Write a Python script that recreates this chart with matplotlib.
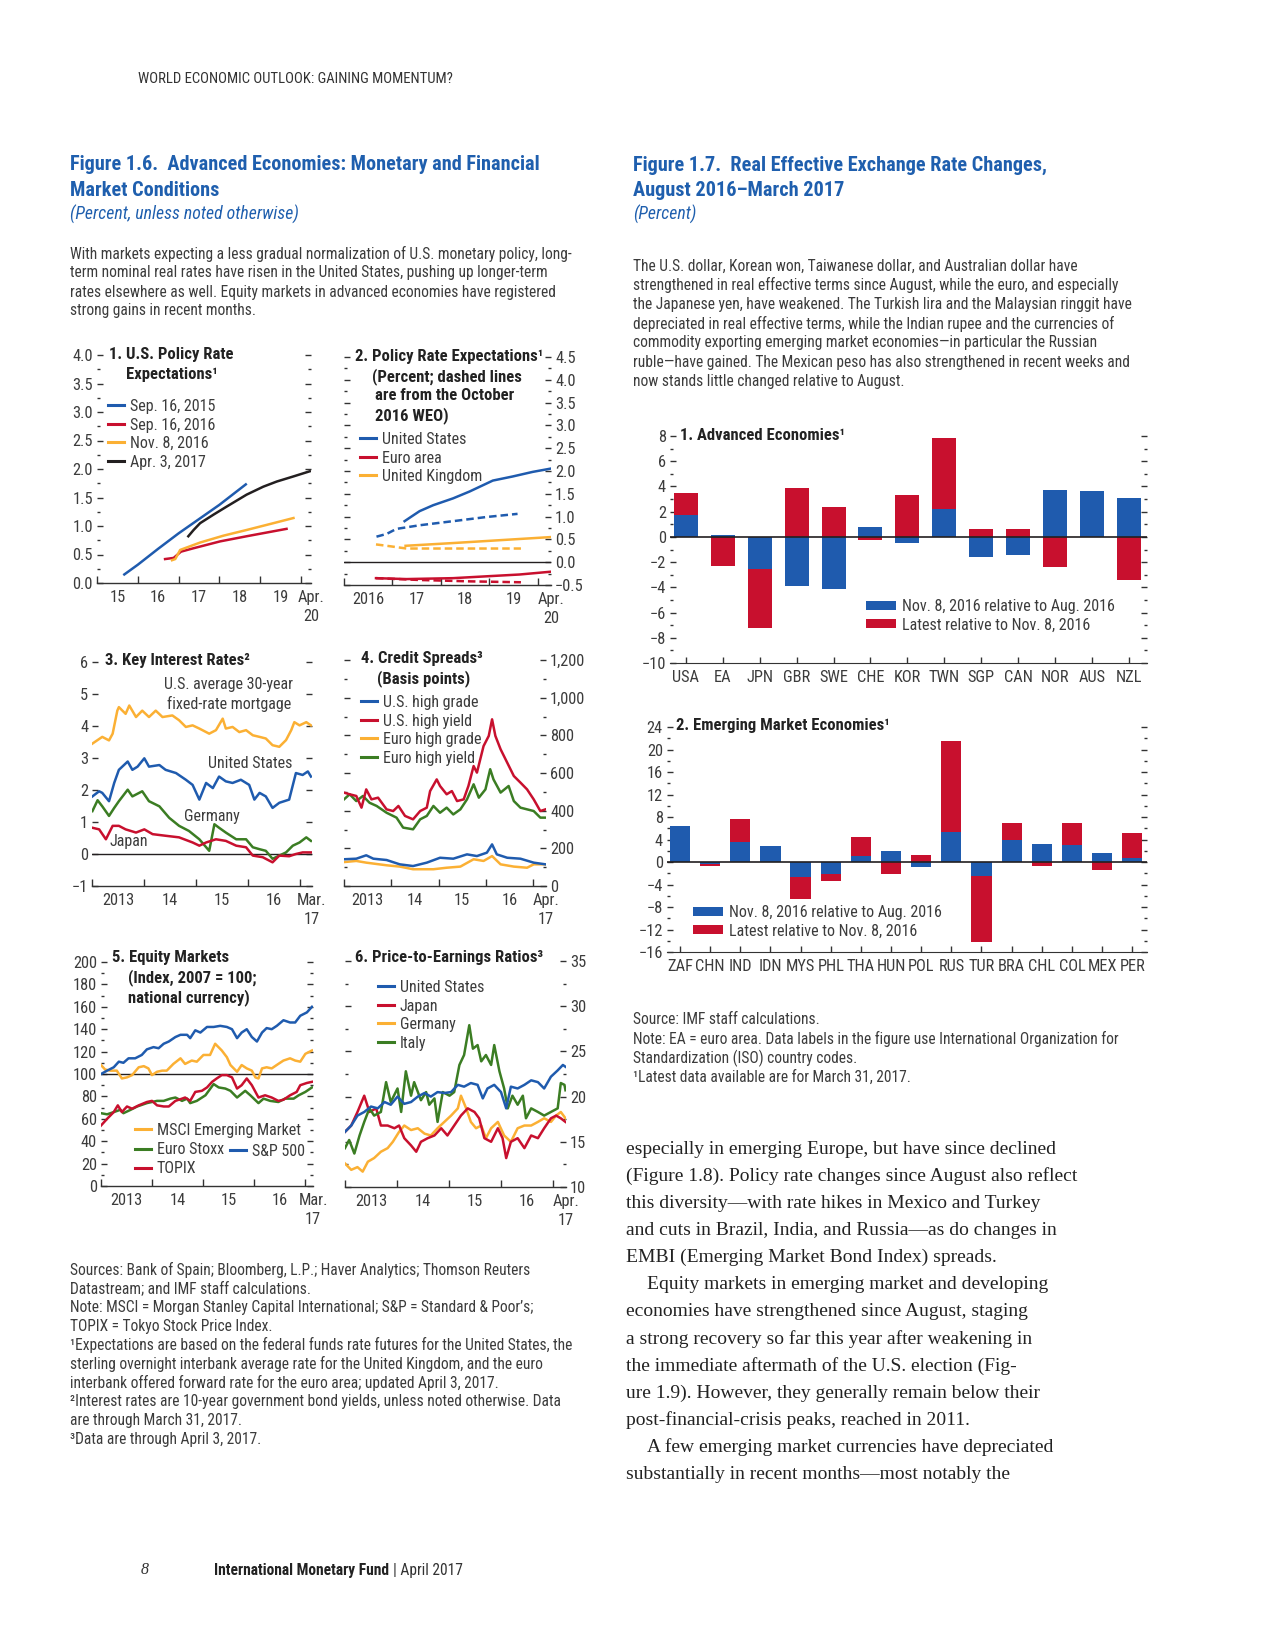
import matplotlib
matplotlib.use('Agg')
import matplotlib.pyplot as plt
from matplotlib import font_manager as fm
from matplotlib.ticker import MultipleLocator, FixedLocator, NullFormatter, FuncFormatter
from matplotlib.patches import Patch
from matplotlib.lines import Line2D
import numpy as np

# ======================= DATA =======================
# Panel 1: U.S. policy rate expectations (year, percent)
p1_sep15_x = [2015.67, 2016.0, 2016.5, 2017.0, 2017.5, 2018.0, 2018.65]
p1_sep15_y = [0.15, 0.32, 0.60, 0.87, 1.12, 1.37, 1.73]
p1_sep16_x = [2016.67, 2016.88, 2017.06, 2017.37, 2018.02, 2018.67, 2019.65]
p1_sep16_y = [0.42, 0.44, 0.55, 0.61, 0.73, 0.82, 0.95]
p1_nov16_x = [2016.84, 2016.92, 2017.04, 2017.53, 2018.10, 2018.67, 2019.33, 2019.82]
p1_nov16_y = [0.40, 0.42, 0.58, 0.71, 0.83, 0.93, 1.05, 1.14]
p1_apr17_x = [2017.24, 2017.37, 2017.53, 2017.86, 2018.18, 2018.67, 2019.08, 2019.41, 2019.82, 2020.22]
p1_apr17_y = [0.82, 0.93, 1.05, 1.20, 1.34, 1.55, 1.69, 1.78, 1.87, 1.96]

# Panel 2: policy rate expectations (solid = latest, dashed = Oct 2016 WEO)
p2_us_x = [2017.25, 2017.39, 2017.56, 2017.84, 2018.25, 2018.59, 2018.93, 2019.07, 2019.48, 2019.89, 2020.25]
p2_us_y = [0.90, 1.00, 1.12, 1.25, 1.40, 1.55, 1.72, 1.79, 1.88, 1.98, 2.05]
p2_usd_x = [2016.67, 2016.88, 2017.08, 2017.56, 2018.25, 2018.93, 2019.58]
p2_usd_y = [0.56, 0.62, 0.73, 0.81, 0.90, 0.99, 1.06]
p2_uk_x = [2017.27, 2018.25, 2020.25]
p2_uk_y = [0.36, 0.42, 0.55]
p2_ukd_x = [2016.66, 2016.88, 2017.29, 2018.25, 2019.65]
p2_ukd_y = [0.39, 0.36, 0.30, 0.30, 0.30]
p2_ea_x = [2016.66, 2017.29, 2018.25, 2018.93, 2019.62, 2020.25]
p2_ea_y = [-0.35, -0.37, -0.35, -0.31, -0.27, -0.21]
p2_ead_x = [2016.66, 2017.56, 2018.59, 2019.65]
p2_ead_y = [-0.35, -0.39, -0.42, -0.44]

# Panel 3: key interest rates (percent)
p3_mort_x = [2013.00, 2013.19, 2013.32, 2013.39, 2013.48, 2013.51, 2013.64, 2013.71, 2013.84, 2013.96,
             2014.09, 2014.22, 2014.35, 2014.54, 2014.67, 2014.80, 2014.93, 2015.06, 2015.25, 2015.38,
             2015.51, 2015.57, 2015.70, 2015.83, 2015.96, 2016.09, 2016.22, 2016.34, 2016.47, 2016.60,
             2016.73, 2016.83, 2016.89, 2016.99, 2017.12, 2017.21]
p3_mort_y = [3.45, 3.66, 3.55, 3.76, 4.48, 4.59, 4.38, 4.64, 4.28, 4.48,
             4.28, 4.48, 4.28, 4.33, 4.18, 3.97, 4.02, 3.92, 3.76, 3.87,
             4.23, 3.92, 3.97, 3.81, 3.87, 3.71, 3.66, 3.61, 3.40, 3.35,
             3.56, 3.87, 4.12, 4.02, 4.12, 4.02]
p3_us_x = [2013.00, 2013.13, 2013.19, 2013.32, 2013.42, 2013.51, 2013.68, 2013.77, 2013.87, 2014.00,
           2014.09, 2014.29, 2014.41, 2014.61, 2014.80, 2014.93, 2015.06, 2015.19, 2015.32, 2015.44,
           2015.57, 2015.70, 2015.86, 2016.02, 2016.12, 2016.22, 2016.34, 2016.47, 2016.60, 2016.79,
           2016.92, 2017.05, 2017.15, 2017.21]
p3_us_y = [1.80, 1.96, 1.91, 1.65, 2.22, 2.63, 2.89, 2.63, 2.73, 2.99,
           2.73, 2.78, 2.63, 2.53, 2.32, 2.16, 1.70, 2.22, 2.06, 2.42,
           2.27, 2.22, 2.32, 2.16, 1.70, 1.91, 1.80, 1.44, 1.60, 1.70,
           2.53, 2.47, 2.58, 2.42]
p3_de_x = [2013.00, 2013.10, 2013.19, 2013.32, 2013.42, 2013.51, 2013.68, 2013.77, 2013.96, 2014.09,
           2014.29, 2014.48, 2014.67, 2014.86, 2015.06, 2015.25, 2015.35, 2015.44, 2015.57, 2015.77,
           2015.96, 2016.09, 2016.22, 2016.34, 2016.47, 2016.60, 2016.73, 2016.86, 2016.99, 2017.12,
           2017.21]
p3_de_y = [1.34, 1.68, 1.49, 1.19, 1.44, 1.65, 2.01, 1.80, 1.96, 1.65,
           1.49, 1.13, 0.88, 0.72, 0.46, 0.10, 0.93, 0.82, 0.67, 0.46,
           0.46, 0.21, 0.15, 0.10, -0.15, -0.05, 0.05, 0.26, 0.36, 0.52,
           0.41]
p3_jp_x = [2013.00, 2013.13, 2013.26, 2013.39, 2013.51, 2013.64, 2013.84, 2014.00, 2014.16, 2014.41,
           2014.67, 2014.93, 2015.06, 2015.19, 2015.38, 2015.57, 2015.77, 2015.96, 2016.09, 2016.28,
           2016.47, 2016.60, 2016.79, 2016.92, 2017.05, 2017.21]
p3_jp_y = [0.82, 0.77, 0.46, 0.88, 0.88, 0.77, 0.67, 0.77, 0.62, 0.57,
           0.52, 0.36, 0.26, 0.36, 0.46, 0.41, 0.26, 0.21, -0.05, -0.10,
           -0.26, -0.05, -0.07, 0.00, 0.05, 0.05]

# Panel 4: credit spreads (basis points)
p4_ushy_x = [2013.00, 2013.12, 2013.26, 2013.37, 2013.47, 2013.58, 2013.72, 2013.90, 2014.04, 2014.15,
             2014.29, 2014.46, 2014.61, 2014.75, 2014.82, 2014.96, 2015.03, 2015.17, 2015.28, 2015.39,
             2015.53, 2015.63, 2015.74, 2015.81, 2015.95, 2016.06, 2016.13, 2016.20, 2016.31, 2016.45,
             2016.59, 2016.73, 2016.87, 2017.01, 2017.15, 2017.26]
p4_ushy_y = [496, 487, 478, 416, 513, 460, 469, 407, 398, 425,
             372, 354, 398, 416, 504, 566, 531, 487, 504, 451,
             460, 531, 637, 602, 743, 797, 885, 797, 726, 655,
             584, 549, 513, 460, 398, 407]
p4_euhy_x = [2013.00, 2013.12, 2013.26, 2013.40, 2013.54, 2013.69, 2013.90, 2014.11, 2014.25, 2014.46,
             2014.61, 2014.75, 2014.89, 2015.03, 2015.17, 2015.31, 2015.46, 2015.60, 2015.74, 2015.85,
             2015.99, 2016.09, 2016.16, 2016.31, 2016.48, 2016.59, 2016.73, 2016.87, 2017.01, 2017.15,
             2017.26]
p4_euhy_y = [460, 487, 451, 478, 442, 425, 389, 363, 310, 301,
             354, 372, 425, 389, 416, 380, 407, 460, 540, 469,
             513, 620, 566, 496, 531, 451, 416, 407, 398, 363,
             363]
p4_ushg_x = [2013.00, 2013.26, 2013.47, 2013.62, 2013.90, 2014.18, 2014.46, 2014.75, 2015.03, 2015.31,
             2015.60, 2015.81, 2016.02, 2016.13, 2016.23, 2016.45, 2016.73, 2017.01, 2017.26]
p4_ushg_y = [142, 145, 163, 145, 138, 115, 106, 124, 150, 145,
             168, 159, 177, 221, 168, 150, 145, 124, 115]
p4_euhg_x = [2013.00, 2013.26, 2013.47, 2013.90, 2014.18, 2014.46, 2014.89, 2015.17, 2015.46, 2015.74,
             2015.95, 2016.13, 2016.31, 2016.59, 2016.87, 2017.01, 2017.26]
p4_euhg_y = [127, 133, 124, 110, 103, 89, 89, 97, 103, 142,
             133, 159, 115, 103, 97, 115, 115]

# Panel 5: equity markets (index, 2007 = 100)
p5_sp_x = [2013.00, 2013.12, 2013.25, 2013.35, 2013.44, 2013.54, 2013.67, 2013.80, 2013.90, 2014.03,
           2014.13, 2014.23, 2014.33, 2014.46, 2014.56, 2014.69, 2014.75, 2014.85, 2014.95, 2015.08,
           2015.21, 2015.34, 2015.47, 2015.57, 2015.67, 2015.76, 2015.86, 2015.96, 2016.06, 2016.16,
           2016.25, 2016.35, 2016.45, 2016.58, 2016.71, 2016.81, 2016.91, 2017.04, 2017.14]
p5_sp_y = [100, 103, 106, 111, 110, 114, 114, 117, 122, 124,
           123, 127, 129, 133, 135, 135, 132, 139, 137, 142,
           142, 143, 142, 140, 132, 137, 140, 133, 129, 137,
           141, 140, 143, 148, 146, 146, 152, 155, 160]
p5_em_x = [2013.00, 2013.08, 2013.18, 2013.31, 2013.41, 2013.51, 2013.61, 2013.74, 2013.84, 2013.93,
           2014.00, 2014.10, 2014.20, 2014.29, 2014.42, 2014.56, 2014.65, 2014.78, 2014.88, 2015.01,
           2015.14, 2015.24, 2015.37, 2015.47, 2015.54, 2015.67, 2015.76, 2015.86, 2015.96, 2016.03,
           2016.09, 2016.16, 2016.25, 2016.35, 2016.48, 2016.58, 2016.71, 2016.81, 2016.91, 2017.01,
           2017.14]
p5_em_y = [108, 104, 103, 103, 96, 97, 99, 106, 107, 105,
           99, 102, 103, 103, 109, 114, 109, 112, 111, 117,
           117, 127, 121, 115, 108, 102, 108, 105, 103, 97,
           96, 105, 106, 105, 109, 112, 114, 112, 111, 118,
           121]
p5_es_x = [2013.00, 2013.12, 2013.25, 2013.38, 2013.44, 2013.58, 2013.71, 2013.90, 2014.10, 2014.23,
           2014.36, 2014.46, 2014.59, 2014.69, 2014.75, 2014.88, 2015.05, 2015.21, 2015.31, 2015.44,
           2015.54, 2015.67, 2015.83, 2015.93, 2016.09, 2016.19, 2016.32, 2016.48, 2016.61, 2016.78,
           2016.88, 2017.01, 2017.14]
p5_es_y = [65, 64, 66, 68, 65, 68, 71, 74, 76, 76,
           78, 79, 76, 78, 74, 76, 81, 91, 88, 87,
           85, 79, 85, 81, 74, 78, 76, 75, 78, 78,
           81, 84, 88]
p5_tp_x = [2013.00, 2013.12, 2013.25, 2013.33, 2013.41, 2013.51, 2013.61, 2013.74, 2013.90, 2014.00,
           2014.10, 2014.23, 2014.33, 2014.46, 2014.59, 2014.65, 2014.75, 2014.85, 2014.98, 2015.08,
           2015.18, 2015.27, 2015.37, 2015.47, 2015.57, 2015.67, 2015.76, 2015.86, 2015.96, 2016.09,
           2016.22, 2016.35, 2016.48, 2016.58, 2016.71, 2016.84, 2016.91, 2017.04, 2017.14]
p5_tp_y = [54, 60, 66, 72, 66, 71, 69, 72, 75, 76,
           72, 71, 71, 76, 78, 79, 76, 84, 85, 88,
           93, 96, 99, 99, 97, 87, 90, 96, 90, 79,
           81, 79, 76, 77, 81, 84, 90, 92, 93]

# Panel 6: price-to-earnings ratios
p6_us_x = [2013.00, 2013.12, 2013.24, 2013.37, 2013.50, 2013.63, 2013.76, 2013.88, 2014.01, 2014.14,
           2014.27, 2014.40, 2014.53, 2014.65, 2014.78, 2014.91, 2015.04, 2015.17, 2015.29, 2015.42,
           2015.55, 2015.65, 2015.74, 2015.87, 2016.00, 2016.10, 2016.19, 2016.32, 2016.45, 2016.58,
           2016.71, 2016.83, 2016.96, 2017.09, 2017.19, 2017.24]
p6_us_y = [16.1, 16.8, 17.9, 18.3, 18.9, 18.7, 19.4, 19.1, 20.0, 19.2,
           19.4, 20.0, 20.4, 20.0, 20.5, 20.4, 20.5, 21.3, 21.1, 21.5,
           21.3, 19.8, 20.9, 21.3, 20.5, 18.7, 21.1, 20.9, 21.3, 21.8,
           21.6, 20.9, 22.2, 22.9, 23.5, 23.3]
p6_it_x = [2013.00, 2013.08, 2013.18, 2013.28, 2013.37, 2013.47, 2013.56, 2013.69, 2013.79, 2013.88,
           2014.01, 2014.08, 2014.17, 2014.27, 2014.33, 2014.46, 2014.56, 2014.62, 2014.72, 2014.78,
           2014.88, 2015.01, 2015.10, 2015.20, 2015.29, 2015.39, 2015.46, 2015.55, 2015.62, 2015.71,
           2015.81, 2015.87, 2015.97, 2016.06, 2016.13, 2016.22, 2016.32, 2016.42, 2016.48, 2016.58,
           2016.71, 2016.83, 2016.96, 2017.09, 2017.15, 2017.22, 2017.24]
p6_it_y = [14.3, 15.2, 13.7, 15.7, 17.2, 18.7, 17.9, 18.3, 21.6, 19.4,
           20.9, 18.3, 22.8, 20.1, 21.6, 19.6, 20.5, 19.1, 19.8, 17.2,
           20.5, 20.1, 20.5, 23.5, 24.6, 27.9, 25.3, 25.7, 23.9, 24.6,
           23.5, 25.7, 22.8, 20.9, 18.7, 20.1, 19.1, 20.1, 17.6, 18.7,
           18.3, 17.9, 18.3, 18.7, 21.5, 21.3, 20.7]
p6_jp_x = [2013.00, 2013.12, 2013.24, 2013.37, 2013.47, 2013.60, 2013.69, 2013.82, 2013.95, 2014.04,
           2014.14, 2014.27, 2014.37, 2014.46, 2014.59, 2014.72, 2014.85, 2014.97, 2015.10, 2015.23,
           2015.36, 2015.49, 2015.58, 2015.68, 2015.81, 2015.94, 2016.03, 2016.10, 2016.19, 2016.32,
           2016.45, 2016.58, 2016.71, 2016.83, 2016.96, 2017.06, 2017.15, 2017.24]
p6_jp_y = [16.1, 16.8, 18.3, 20.1, 18.3, 18.7, 16.8, 16.8, 16.5, 16.8,
           15.4, 14.6, 13.9, 15.0, 15.4, 15.7, 16.5, 15.7, 16.8, 17.9,
           18.7, 18.3, 17.6, 15.4, 15.0, 16.5, 15.4, 13.2, 15.0, 15.4,
           14.3, 15.7, 15.4, 16.5, 17.6, 17.9, 17.6, 17.2]
p6_de_x = [2013.00, 2013.12, 2013.24, 2013.34, 2013.44, 2013.56, 2013.69, 2013.82, 2013.92, 2014.04,
           2014.14, 2014.27, 2014.40, 2014.53, 2014.65, 2014.78, 2014.91, 2015.04, 2015.17, 2015.23,
           2015.33, 2015.42, 2015.52, 2015.62, 2015.71, 2015.81, 2015.94, 2016.06, 2016.19, 2016.32,
           2016.45, 2016.58, 2016.71, 2016.83, 2016.96, 2017.06, 2017.15, 2017.24]
p6_de_y = [12.6, 11.9, 12.2, 11.7, 12.8, 13.2, 13.9, 14.3, 15.0, 16.1,
           16.8, 16.3, 16.5, 15.9, 15.7, 16.5, 17.2, 17.9, 18.7, 20.1,
           18.7, 17.2, 16.5, 16.8, 15.4, 16.5, 17.2, 15.7, 15.0, 16.5,
           16.8, 16.8, 17.2, 17.6, 17.2, 17.9, 18.3, 17.6]

# Figure 1.7: real effective exchange rate changes (percent)
ae_codes = ['USA', 'EA', 'JPN', 'GBR', 'SWE', 'CHE', 'KOR', 'TWN', 'SGP', 'CAN', 'NOR', 'AUS', 'NZL']
ae_nov_vs_aug = [1.74, 0.16, -2.53, -3.93, -4.12, 0.79, -0.45, 2.22, -1.56, -1.40, 3.72, 3.64, 3.10]
ae_latest_vs_nov = [1.72, -2.27, -4.73, 3.85, 2.35, -0.21, 3.30, 5.59, 0.63, 0.63, -2.35, 0.0, -3.40]

em_codes = ['ZAF', 'CHN', 'IND', 'IDN', 'MYS', 'PHL', 'THA', 'HUN', 'POL', 'RUS', 'TUR', 'BRA',
            'CHL', 'COL', 'MEX', 'PER']
em_nov_vs_aug = [6.45, -0.35, 3.49, 2.90, -2.72, -2.07, 1.00, 2.00, -0.83, 5.27, -2.54, 3.96,
                 3.25, 3.02, 1.65, 0.80]
em_latest_vs_nov = [0.0, -0.30, 4.20, 0.0, -3.79, -1.24, 3.50, -2.07, 1.30, 16.27, -11.76, 2.97,
                    -0.65, 3.90, -1.37, 4.30]

# ======================= STYLE =======================
W, H = 1275, 1650
fig = plt.figure(figsize=(W / 100, H / 100), dpi=100)
fig.patch.set_facecolor('white')

names = {f.name for f in fm.fontManager.ttflist}
def pick(*cands):
    for c in cands:
        if c in names:
            return c
    return 'DejaVu Sans'
SANS = pick('Liberation Sans Narrow', 'Roboto Condensed', 'Open Sans Condensed', 'Liberation Sans')
SERIF = pick('Liberation Serif', 'DejaVu Serif')
plt.rcParams['font.family'] = [SANS, 'DejaVu Sans']

BLUE = '#1F5BAE'
RED = '#C8102E'
ORANGE = '#FBB034'
GREEN = '#3B7D23'
BLACK = '#231F20'
TBLUE = '#1F5FAE'
TXT = '#3C3C3C'
AX = '#333333'
FS = 11.2      # page notes
TFS = 11.8     # tick labels
LFS = 11.5     # legends / annotations
HFS = 12.0     # panel titles
LW = 1.8


def px_axes(l, t, r, b):
    ax = fig.add_axes([l / W, 1 - b / H, (r - l) / W, (b - t) / H])
    ax.patch.set_alpha(0)
    return ax


def ftext(x, y, s, **kw):
    kw.setdefault('va', 'center')
    kw.setdefault('ha', 'left')
    kw.setdefault('color', TXT)
    kw.setdefault('fontsize', FS)
    return fig.text(x / W, 1 - y / H, s, **kw)


def ptitle(x, y, s):
    return ftext(x, y, s, fontweight='bold', color='#222222', fontsize=HFS)


def style_ts(ax, xlim, ylim, bounds, clabels, endlabel, ymaj, ymin, side, fmt=None, xpad=5):
    ax.set_xlim(*xlim)
    ax.set_ylim(*ylim)
    for s in ('top', 'left', 'right'):
        ax.spines[s].set_visible(False)
    ax.spines['bottom'].set_color(AX)
    ax.spines['bottom'].set_linewidth(1.0)
    ax.xaxis.set_major_locator(FixedLocator(bounds))
    ax.xaxis.set_major_formatter(NullFormatter())
    centers = [b + 0.5 for b in bounds[:len(clabels)]]
    ax.xaxis.set_minor_locator(FixedLocator(centers + [xlim[1]]))
    ax.set_xticklabels(clabels + [endlabel], minor=True, linespacing=1.3)
    ax.tick_params(axis='x', which='major', direction='in', length=5, width=1, color=AX)
    ax.tick_params(axis='x', which='minor', length=0, pad=xpad, labelsize=TFS, labelcolor=TXT)
    ax.yaxis.set_major_locator(MultipleLocator(ymaj))
    if ymin:
        ax.yaxis.set_minor_locator(MultipleLocator(ymin))
    ax.tick_params(axis='y', which='both', direction='in', left=True, right=True,
                   labelleft=(side == 'left'), labelright=(side == 'right'), color=AX, width=1)
    ax.tick_params(axis='y', which='major', length=4.5, pad=3, labelsize=TFS, labelcolor=TXT)
    ax.tick_params(axis='y', which='minor', length=2.2)
    if fmt is not None:
        ax.yaxis.set_major_formatter(fmt)


def add_legend(ax, handles, labels, x, y, spacing=0.22, hl=1.0, **kw):
    leg = ax.legend(handles, labels, loc='upper left', bbox_to_anchor=(x / W, 1 - y / H),
                    bbox_transform=fig.transFigure, frameon=False, fontsize=LFS,
                    handlelength=hl, handletextpad=0.35, labelspacing=spacing,
                    borderpad=0, borderaxespad=0, **kw)
    for t in leg.get_texts():
        t.set_color(TXT)
    return leg


def L(c, ls='-'):
    return Line2D([], [], color=c, lw=2.2, ls=ls)


# ======================= PAGE TEXT =======================
ftext(138, 79, 'WORLD ECONOMIC OUTLOOK: GAINING MOMENTUM?', fontsize=10.6, color='#333333')

ftext(70, 165, 'Figure 1.6.  Advanced Economies: Monetary and Financial', fontsize=14.6,
      fontweight='bold', color=TBLUE)
ftext(70, 191, 'Market Conditions', fontsize=14.6, fontweight='bold', color=TBLUE)
ftext(70, 214, '(Percent, unless noted otherwise)', fontsize=12.8, style='italic', color=TBLUE)

intro = ['With markets expecting a less gradual normalization of U.S. monetary policy, long-',
         'term nominal real rates have risen in the United States, pushing up longer-term',
         'rates elsewhere as well. Equity markets in advanced economies have registered',
         'strong gains in recent months.']
for i, s in enumerate(intro):
    ftext(70, 254 + i * 19, s)

ftext(633, 165, 'Figure 1.7.  Real Effective Exchange Rate Changes,', fontsize=14.6,
      fontweight='bold', color=TBLUE)
ftext(633, 191, 'August 2016\u2013March 2017', fontsize=14.6, fontweight='bold', color=TBLUE)
ftext(633, 214, '(Percent)', fontsize=12.8, style='italic', color=TBLUE)

intro2 = ['The U.S. dollar, Korean won, Taiwanese dollar, and Australian dollar have',
          'strengthened in real effective terms since August, while the euro, and especially',
          'the Japanese yen, have weakened. The Turkish lira and the Malaysian ringgit have',
          'depreciated in real effective terms, while the Indian rupee and the currencies of',
          'commodity exporting emerging market economies\u2014in particular the Russian',
          'ruble\u2014have gained. The Mexican peso has also strengthened in recent weeks and',
          'now stands little changed relative to August.']
for i, s in enumerate(intro2):
    ftext(633, 266 + i * 19.2, s)

notes16 = ['Sources: Bank of Spain; Bloomberg, L.P.; Haver Analytics; Thomson Reuters',
           'Datastream; and IMF staff calculations.',
           'Note: MSCI = Morgan Stanley Capital International; S&P = Standard & Poor\u2019s;',
           'TOPIX = Tokyo Stock Price Index.',
           '\u00b9Expectations are based on the federal funds rate futures for the United States, the',
           'sterling overnight interbank average rate for the United Kingdom, and the euro',
           'interbank offered forward rate for the euro area; updated April 3, 2017.',
           '\u00b2Interest rates are 10-year government bond yields, unless noted otherwise. Data',
           'are through March 31, 2017.',
           '\u00b3Data are through April 3, 2017.']
for i, s in enumerate(notes16):
    ftext(70, 1270 + i * 18.8, s)

notes17 = ['Source: IMF staff calculations.',
           'Note: EA = euro area. Data labels in the figure use International Organization for',
           'Standardization (ISO) country codes.',
           '\u00b9Latest data available are for March 31, 2017.']
for i, s in enumerate(notes17):
    ftext(633, 1020 + i * 19, s)

body = [(626, 'especially in emerging Europe, but have since declined'),
        (626, '(Figure 1.8). Policy rate changes since August also reflect'),
        (626, 'this diversity\u2014with rate hikes in Mexico and Turkey'),
        (626, 'and cuts in Brazil, India, and Russia\u2014as do changes in'),
        (626, 'EMBI (Emerging Market Bond Index) spreads.'),
        (647, 'Equity markets in emerging market and developing'),
        (626, 'economies have strengthened since August, staging'),
        (626, 'a strong recovery so far this year after weakening in'),
        (626, 'the immediate aftermath of the U.S. election (Fig-'),
        (626, 'ure 1.9). However, they generally remain below their'),
        (626, 'post-financial-crisis peaks, reached in 2011.'),
        (647, 'A few emerging market currencies have depreciated'),
        (626, 'substantially in recent months\u2014most notably the')]
for i, (x, s) in enumerate(body):
    ftext(x, 1149 + i * 27.1, s, family=[SERIF, 'DejaVu Serif'], fontsize=14.0, color='#222222')

ftext(141, 1570, '8', family=[SERIF], style='italic', fontsize=11.5, color='#333333')
imf = ftext(214, 1570, 'International Monetary Fund', fontweight='bold', fontsize=11.2, color='#222222')
fig.canvas.draw()
bb = imf.get_window_extent(fig.canvas.get_renderer())
ftext(bb.x1 + 4, 1570, '| April 2017', fontsize=11.2, color='#333333')

# ======================= PANEL 1 =======================
ax1 = px_axes(97, 355, 311, 583)
ax1.plot(p1_sep15_x, p1_sep15_y, color=BLUE, lw=LW)
ax1.plot(p1_sep16_x, p1_sep16_y, color=RED, lw=LW)
ax1.plot(p1_nov16_x, p1_nov16_y, color=ORANGE, lw=LW)
ax1.plot(p1_apr17_x, p1_apr17_y, color=BLACK, lw=LW)
style_ts(ax1, (2015, 2020.25), (0, 4), [2015, 2016, 2017, 2018, 2019, 2020],
         ['15', '16', '17', '18', '19'], 'Apr.\n20', 0.5, 0.25, 'left',
         fmt=FuncFormatter(lambda v, p: f'{v:.1f}'))
ptitle(109, 355, '1. U.S. Policy Rate')
ptitle(126, 375, 'Expectations\u00b9')
add_legend(ax1, [L(BLUE), L(RED), L(ORANGE), L(BLACK)],
           ['Sep. 16, 2015', 'Sep. 16, 2016', 'Nov. 8, 2016', 'Apr. 3, 2017'], 108, 399)

# ======================= PANEL 2 =======================
ax2 = px_axes(344, 357, 551, 585)
ax2.axhline(0, color=BLACK, lw=1)
ax2.plot(p2_us_x, p2_us_y, color=BLUE, lw=LW)
ax2.plot(p2_usd_x, p2_usd_y, color=BLUE, lw=LW, ls=(0, (3, 1.6)))
ax2.plot(p2_uk_x, p2_uk_y, color=ORANGE, lw=LW)
ax2.plot(p2_ukd_x, p2_ukd_y, color=ORANGE, lw=LW, ls=(0, (3, 1.6)))
ax2.plot(p2_ea_x, p2_ea_y, color=RED, lw=LW)
ax2.plot(p2_ead_x, p2_ead_y, color=RED, lw=LW, ls=(0, (3, 1.6)))
style_ts(ax2, (2016, 2020.27), (-0.5, 4.5), [2016, 2017, 2018, 2019, 2020],
         ['2016', '17', '18', '19'], 'Apr.\n20', 0.5, 0.25, 'right',
         fmt=FuncFormatter(lambda v, p: f'{v:.1f}'.replace('-', '\u2212')))
ptitle(355, 356, '2. Policy Rate Expectations\u00b9')
ptitle(372, 377, '(Percent; dashed lines')
ptitle(375, 396, 'are from the October')
ptitle(375, 416, '2016 WEO)')
add_legend(ax2, [L(BLUE), L(RED), L(ORANGE)], ['United States', 'Euro area', 'United Kingdom'],
           360, 432)

# ======================= PANEL 3 =======================
ax3 = px_axes(92.4, 662, 312, 886)
ax3.axhline(0, color=BLACK, lw=1)
ax3.plot(p3_mort_x, p3_mort_y, color=ORANGE, lw=LW)
ax3.plot(p3_us_x, p3_us_y, color=BLUE, lw=LW)
ax3.plot(p3_de_x, p3_de_y, color=GREEN, lw=LW)
ax3.plot(p3_jp_x, p3_jp_y, color=RED, lw=LW)
style_ts(ax3, (2013, 2017.23), (-1, 6), [2013, 2014, 2015, 2016, 2017],
         ['2013', '14', '15', '16'], 'Mar.\n17', 1, None, 'left')
ptitle(105, 661, '3. Key Interest Rates\u00b2')
ftext(229, 685, 'U.S. average 30-year', ha='center', fontsize=LFS)
ftext(229, 704, 'fixed-rate mortgage', ha='center', fontsize=LFS)
ftext(250, 763, 'United States', ha='center', fontsize=LFS)
ftext(212, 816, 'Germany', ha='center', fontsize=LFS)
ftext(129, 842, 'Japan', ha='center', fontsize=LFS)

# ======================= PANEL 4 =======================
ax4 = px_axes(344, 660, 546, 886)
ax4.plot(p4_euhg_x, p4_euhg_y, color=ORANGE, lw=LW)
ax4.plot(p4_ushg_x, p4_ushg_y, color=BLUE, lw=LW)
ax4.plot(p4_euhy_x, p4_euhy_y, color=GREEN, lw=LW)
ax4.plot(p4_ushy_x, p4_ushy_y, color=RED, lw=LW)
style_ts(ax4, (2013, 2017.27), (0, 1200), [2013, 2014, 2015, 2016, 2017],
         ['2013', '14', '15', '16'], 'Apr.\n17', 200, 100, 'right',
         fmt=FuncFormatter(lambda v, p: f'{v:,.0f}'))
ptitle(361, 659, '4. Credit Spreads\u00b3')
ptitle(377, 679, '(Basis points)')
add_legend(ax4, [L(BLUE), L(RED), L(ORANGE), L(GREEN)],
           ['U.S. high grade', 'U.S. high yield', 'Euro high grade', 'Euro high yield'], 361, 695)

# ======================= PANEL 5 =======================
ax5 = px_axes(101, 962, 313, 1186)
ax5.axhline(100, color=BLACK, lw=1)
ax5.plot(p5_em_x, p5_em_y, color=ORANGE, lw=LW)
ax5.plot(p5_sp_x, p5_sp_y, color=BLUE, lw=LW)
ax5.plot(p5_es_x, p5_es_y, color=GREEN, lw=LW)
ax5.plot(p5_tp_x, p5_tp_y, color=RED, lw=LW)
style_ts(ax5, (2013, 2017.16), (0, 200), [2013, 2014, 2015, 2016, 2017],
         ['2013', '14', '15', '16'], 'Mar.\n17', 20, 10, 'left')
ptitle(112, 958, '5. Equity Markets')
ptitle(128, 978, '(Index, 2007 = 100;')
ptitle(128, 998, 'national currency)')
leg5 = add_legend(ax5, [L(ORANGE), L(GREEN), L(RED)],
                  ['MSCI Emerging Market', 'Euro Stoxx', 'TOPIX'], 135, 1123, spacing=0.26)
ax5.add_artist(leg5)
add_legend(ax5, [L(BLUE)], ['S&P 500'], 230, 1144)

# ======================= PANEL 6 =======================
ax6 = px_axes(345, 961, 566, 1187)
ax6.plot(p6_de_x, p6_de_y, color=ORANGE, lw=LW)
ax6.plot(p6_jp_x, p6_jp_y, color=RED, lw=LW)
ax6.plot(p6_it_x, p6_it_y, color=GREEN, lw=LW)
ax6.plot(p6_us_x, p6_us_y, color=BLUE, lw=LW)
style_ts(ax6, (2013, 2017.25), (10, 35), [2013, 2014, 2015, 2016, 2017],
         ['2013', '14', '15', '16'], 'Apr.\n17', 5, 2.5, 'right')
ptitle(355, 958, '6. Price-to-Earnings Ratios\u00b3')
add_legend(ax6, [L(BLUE), L(RED), L(ORANGE), L(GREEN)],
           ['United States', 'Japan', 'Germany', 'Italy'], 378, 980)


# ======================= FIGURE 1.7 BARS =======================
def bar_panel(ax, codes, first, second, ylim, ymaj, ymin, width):
    first = np.asarray(first, float)
    second = np.asarray(second, float)
    x = np.arange(len(codes))
    bottom2 = np.where(np.sign(first) == np.sign(second), first, 0.0)
    ax.bar(x, first, width=width, color=BLUE, linewidth=0, zorder=2)
    ax.bar(x, second, bottom=bottom2, width=width, color=RED, linewidth=0, zorder=2)
    ax.axhline(0, color=BLACK, lw=1.2, zorder=3)
    ax.set_xlim(-0.43, len(codes) - 0.43 - 0.08)
    ax.set_ylim(*ylim)
    for s in ('top', 'left', 'right'):
        ax.spines[s].set_visible(False)
    ax.spines['bottom'].set_color(AX)
    ax.set_xticks(x)
    ax.set_xticklabels(codes)
    ax.tick_params(axis='x', direction='in', length=4, width=1, color=AX, pad=5,
                   labelsize=TFS, labelcolor=TXT)
    ax.yaxis.set_major_locator(MultipleLocator(ymaj))
    ax.yaxis.set_minor_locator(MultipleLocator(ymin))
    ax.tick_params(axis='y', which='both', direction='in', left=True, right=True,
                   labelleft=True, labelright=False, color=AX, width=1)
    ax.tick_params(axis='y', which='major', length=4.5, pad=3, labelsize=TFS, labelcolor=TXT)
    ax.tick_params(axis='y', which='minor', length=2.2)


axb1 = px_axes(670, 436, 1147, 663)
bar_panel(axb1, ae_codes, ae_nov_vs_aug, ae_latest_vs_nov, (-10, 8), 2, 1, 0.65)
ptitle(680, 435, '1. Advanced Economies\u00b9')
pb = [Patch(facecolor=BLUE, edgecolor='none'), Patch(facecolor=RED, edgecolor='none')]
blabels = ['Nov. 8, 2016 relative to Aug. 2016', 'Latest relative to Nov. 8, 2016']
add_legend(axb1, pb, blabels, 866, 599, spacing=0.22, hl=1.9, handleheight=0.5)

axb2 = px_axes(667, 727, 1147, 952)
bar_panel(axb2, em_codes, em_nov_vs_aug, em_latest_vs_nov, (-16, 24), 4, 2, 0.67)
ptitle(676, 725, '2. Emerging Market Economies\u00b9')
add_legend(axb2, pb, blabels, 693, 905, spacing=0.22, hl=1.9, handleheight=0.5)

fig.savefig('out.png', dpi=100, facecolor='white')
